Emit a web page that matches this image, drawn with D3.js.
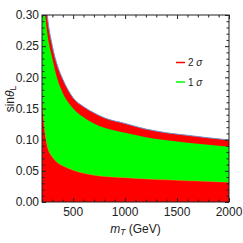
<!DOCTYPE html>
<html lang="en">
<head>
<meta charset="utf-8">
<title>sin theta L vs mT</title>
<script src="https://cdn.jsdelivr.net/npm/d3@7"></script>
<style>
body { margin: 0; background: #fff; }
text { font-family: "Liberation Sans", Arial, sans-serif; }
</style>
</head>
<body>
<div id="chart"></div>
<script>
// values
var massGeV   = [200, 225, 250, 300, 350, 400, 500, 600, 700, 800, 1000, 1200, 1400, 1600, 1800, 2000]
var upper2sig = [0.42, 0.35, 0.301, 0.250, 0.218, 0.197, 0.167, 0.153, 0.143, 0.135, 0.126, 0.117, 0.111, 0.107, 0.103, 0.0995]
var upper1sig = [0.36, 0.31, 0.272, 0.230, 0.196, 0.175, 0.150, 0.136, 0.126, 0.119, 0.111, 0.104, 0.099, 0.095, 0.092, 0.0888]
var lower1sig = [0.16, 0.115, 0.090, 0.072, 0.063, 0.058, 0.051, 0.046, 0.043, 0.041, 0.039, 0.037, 0.0355, 0.034, 0.033, 0.0316]
var xMajor = [500, 1000, 1500, 2000]
var yMajor = [0, 0.05, 0.10, 0.15, 0.20, 0.25, 0.30]
var legendItems = ["2", "1"]

var W = 243, H = 243
var margin = {top: 15, right: 14, bottom: 41, left: 42}

var svg = d3.select("#chart").append("svg")
    .attr("width", W).attr("height", H)

var x = d3.scaleLinear().domain([200, 2000]).range([margin.left, W - margin.right])
var y = d3.scaleLinear().domain([0, 0.3]).range([H - margin.bottom, margin.top])

svg.append("clipPath").attr("id", "clip")
  .append("rect")
    .attr("x", x(200)).attr("y", y(0.3))
    .attr("width", x(2000) - x(200)).attr("height", y(0) - y(0.3))

var g = svg.append("g").attr("clip-path", "url(#clip)")

var rows = massGeV.map(function(m, i) {
    return {m: m, up2: upper2sig[i], up1: upper1sig[i], lo1: lower1sig[i]}
})

// 2 sigma region, all the way down
g.append("path").datum(rows)
    .attr("fill", "#ff0000")
    .attr("d", d3.area().curve(d3.curveMonotoneX)
        .x(function(d){ return x(d.m) })
        .y0(function(d){ return y(0) })
        .y1(function(d){ return y(d.up2) }))

// 1 sigma band
g.append("path").datum(rows)
    .attr("fill", "#00ff00")
    .attr("d", d3.area().curve(d3.curveMonotoneX)
        .x(function(d){ return x(d.m) })
        .y0(function(d){ return y(d.lo1) })
        .y1(function(d){ return y(d.up1) }))

g.append("path").datum(rows)
    .attr("fill", "none")
    .attr("stroke", "#e8b020").attr("stroke-width", 0.6).attr("opacity", 0.6)
    .attr("d", d3.line().curve(d3.curveMonotoneX)
        .x(function(d){ return x(d.m) })
        .y(function(d){ return y(d.lo1) }))

g.append("path").datum(rows)
    .attr("fill", "none")
    .attr("stroke", "#6f92cc").attr("stroke-width", 1)
    .attr("d", d3.line().curve(d3.curveMonotoneX)
        .x(function(d){ return x(d.m) })
        .y(function(d){ return y(d.up2) }))

// ticks on all four sides, pointing inward
var xMinor = d3.range(200, 2001, 100).filter(function(v){ return xMajor.indexOf(v) < 0 })
var yMinor = d3.range(0, 31).map(function(v){ return v / 100 }).filter(function(v){ return Math.round(v * 100) % 5 != 0 })

function tickAxis(axisFn, scale, vals, size, tx, ty) {
    var a = svg.append("g").attr("transform", "translate(" + tx + "," + ty + ")")
        .call(axisFn(scale).tickValues(vals).tickSize(size).tickFormat(""))
    a.select(".domain").remove()
    a.selectAll("line").attr("stroke", "#222")
    return a
}
var bottom = H - margin.bottom, right = W - margin.right
tickAxis(d3.axisBottom, x, xMajor, -4, 0, bottom)
tickAxis(d3.axisBottom, x, xMinor, -2.5, 0, bottom)
tickAxis(d3.axisTop, x, xMajor, -4, 0, margin.top)
tickAxis(d3.axisTop, x, xMinor, -2.5, 0, margin.top)
tickAxis(d3.axisLeft, y, yMajor, -4, margin.left, 0)
tickAxis(d3.axisLeft, y, yMinor, -2.5, margin.left, 0)
tickAxis(d3.axisRight, y, yMajor, -4, right, 0)
tickAxis(d3.axisRight, y, yMinor, -2.5, right, 0)

svg.append("rect")
    .attr("x", margin.left).attr("y", margin.top)
    .attr("width", right - margin.left).attr("height", bottom - margin.top)
    .attr("fill", "none").attr("stroke", "#222").attr("stroke-width", 1)

// tick labels
svg.selectAll(".xlab").data(xMajor).enter().append("text")
    .attr("x", function(d){ return x(d) }).attr("y", bottom + 14)
    .attr("text-anchor", "middle").attr("font-size", 12).attr("fill", "#222")
    .text(function(d){ return d })

svg.selectAll(".ylab").data(yMajor).enter().append("text")
    .attr("x", margin.left - 3).attr("y", function(d){ return y(d) + 4.2 })
    .attr("text-anchor", "end").attr("font-size", 12).attr("fill", "#222")
    .text(function(d){ return d3.format(".2f")(d) })

// axis titles
var xt = svg.append("text").attr("x", (margin.left + right) / 2).attr("y", 233)
    .attr("text-anchor", "middle").attr("font-size", 12).attr("fill", "#222")
xt.append("tspan").attr("font-style", "italic").text("m")
xt.append("tspan").attr("font-style", "italic").attr("font-size", 8.5).attr("dy", 2).text("T")
xt.append("tspan").attr("dy", -2).text(" (GeV)")

var yt = svg.append("text").attr("transform", "translate(14,99) rotate(-90)")
    .attr("text-anchor", "middle").attr("font-size", 12).attr("fill", "#222")
yt.append("tspan").text("sin")
yt.append("tspan").attr("font-style", "italic").text("θ")
yt.append("tspan").attr("font-size", 8.5).attr("dy", 2).text("L")

// legend
var legColors = ["#ff0000", "#00ff00"]
var leg = svg.selectAll(".leg").data(legendItems).enter().append("g")
    .attr("transform", function(d, i){ return "translate(176," + (62.5 + i * 19.5) + ")" })
leg.append("line").attr("x1", 0).attr("x2", 9)
    .attr("stroke", function(d, i){ return legColors[i] }).attr("stroke-width", 1.5)
var lt = leg.append("text").attr("x", 12).attr("y", 3.5).attr("font-size", 10).attr("fill", "#222")
lt.append("tspan").text(function(d){ return d + " " })
lt.append("tspan").attr("font-style", "italic").text("σ")
</script>
</body>
</html>
